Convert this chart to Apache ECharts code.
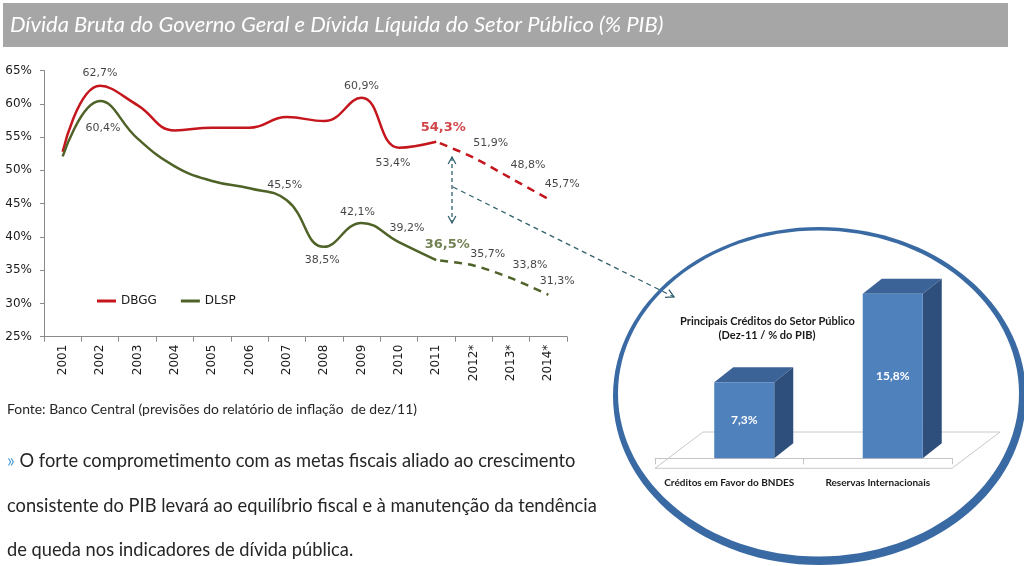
<!DOCTYPE html>
<html><head><meta charset="utf-8">
<script src="https://cdn.jsdelivr.net/npm/echarts@6/dist/echarts.min.js"></script>
<style>html,body{margin:0;padding:0;background:#fff}#c{width:1024px;height:566px}</style>
</head><body><div id="c"></div>
<script>
// ---------- data ----------
const years = ['2001','2002','2003','2004','2005','2006','2007','2008','2009','2010','2011','2012*','2013*','2014*'];
const dbgg  = [52.8, 62.7, 59.8, 56.0, 56.4, 56.4, 58.0, 57.4, 60.9, 53.4, 54.3, 51.9, 48.8, 45.7];
const dlsp  = [52.1, 60.4, 54.8, 50.6, 48.4, 47.3, 45.5, 38.5, 42.1, 39.2, 36.5, 35.7, 33.8, 31.3];
const lastActualIndex = 10; // 2011, projections after
const yMin = 25, yMax = 65, yStep = 5;
const creditCats = ['Créditos em Favor do BNDES', 'Reservas Internacionais'];
const creditVals = [7.3, 15.8];

const titleText = 'Dívida Bruta do Governo Geral e Dívida Líquida do Setor Público (% PIB)';
const sourceText = 'Fonte: Banco Central (previsões do relatório de inflação  de dez/11)';
const bodyLines = [
  'O forte comprometimento com as metas fiscais aliado ao crescimento',
  'consistente do PIB levará ao equilíbrio fiscal e à manutenção da tendência',
  'de queda nos indicadores de dívida pública.'
];
const insetTitle = ['Principais Créditos do Setor Público', '(Dez-11 / % do PIB)'];

// ---------- label placement (offset from point, px) ----------
const dbggLabelPlace = {1:[0,-13], 8:[0,-12], 9:[-6,15], 10:[7,-14], 11:[17,-15], 12:[17,-13], 13:[14,-15]};
const dlspLabelPlace = {1:[3,27], 6:[-2,-15], 7:[-2,13], 8:[-4,-11], 9:[8,-14], 10:[11,-16], 11:[14,-11], 12:[19,-13], 13:[9,-14]};
const highlightIndex = 10;

// ---------- styles ----------
const RED = '#c4161c', OLIVE = '#4f6228', TEAL = '#31606e';
const AXIS = '#8a8a8a', TXT = '#1a1a1a';
const fmt = v => v.toFixed(1).replace('.', ',') + '%';

const mctx = document.createElement('canvas').getContext('2d');
function fit(text, fontPrefix, family, target) {
  mctx.font = fontPrefix + ' 100px ' + family;
  return 100 * target / mctx.measureText(text).width;
}

const chart = echarts.init(document.getElementById('c'), null, {renderer: 'canvas'});

function labelData(values, place, color) {
  return values.map((v, i) => {
    const p = place[i];
    if (!p) return {value: v, label: {show: false}};
    const big = i === highlightIndex;
    return {
      value: v,
      label: {
        show: true, position: 'inside', offset: p,
        formatter: () => fmt(v),
        fontFamily: 'DejaVu Sans', fontSize: big ? 13 : 11,
        fontWeight: big ? 'bold' : 'normal',
        color: big ? color : '#141414'
      }
    };
  });
}

const solid = arr => arr.map((v, i) => i <= lastActualIndex ? v : null);
const proj  = arr => arr.map((v, i) => i >= lastActualIndex ? v : null);

const titleSize = Math.min(22, fit(titleText, 'italic normal', 'Lato', 687));
const sourceSize = Math.min(15, fit(sourceText, 'normal normal', 'Lato', 410));
const bodySize = Math.min(20, fit(bodyLines[1], 'normal normal', 'Lato', 590));
const insetTitleSize = Math.min(13, fit(insetTitle[0], 'normal bold', 'Lato', 175));

// arrow helpers (annotation decoration)
function arrowHead(tip, from, len, ang) {
  const dx = from[0] - tip[0], dy = from[1] - tip[1];
  const d = Math.hypot(dx, dy), ux = dx / d, uy = dy / d;
  const rot = (a) => [tip[0] + len * (ux * Math.cos(a) - uy * Math.sin(a)), tip[1] + len * (ux * Math.sin(a) + uy * Math.cos(a))];
  return [rot(ang), tip, rot(-ang)];
}
const vTop = [452, 157], vBot = [452, 223];
const dStart = [453, 187], dEnd = [674, 297];

const option = {
  animation: false,
  backgroundColor: '#ffffff',
  legend: {
    data: ['DBGG', 'DLSP'],
    left: 92, top: 290,
    icon: 'rect', itemWidth: 19, itemHeight: 3, itemGap: 24,
    textStyle: {fontFamily: 'DejaVu Sans', fontSize: 12, color: TXT},
    selectedMode: false
  },
  grid: [
    {left: 44, top: 70.5, width: 523, height: 266.2},
    {left: 655, top: 250, width: 297, height: 208.3}
  ],
  xAxis: [
    {
      type: 'category', gridIndex: 0, data: years, boundaryGap: true,
      axisLine: {lineStyle: {color: AXIS, width: 1}},
      axisTick: {show: true, length: 5, interval: 0, lineStyle: {color: AXIS}},
      axisLabel: {rotate: 90, margin: 8, interval: 0, fontFamily: 'DejaVu Sans', fontSize: 12, color: TXT},
      splitLine: {show: false}
    },
    {
      type: 'category', gridIndex: 1, data: creditCats, boundaryGap: true, offset: 10,
      axisLine: {lineStyle: {color: '#c4c4c4', width: 1}},
      axisTick: {show: true, length: 6, lineStyle: {color: '#c4c4c4'}},
      axisLabel: {margin: 9, interval: 0, fontFamily: 'Lato', fontWeight: 'bold', fontSize: 10, color: TXT},
      splitLine: {show: false}
    }
  ],
  yAxis: [
    {
      type: 'value', gridIndex: 0, min: yMin, max: yMax, interval: yStep,
      axisLine: {show: true, lineStyle: {color: AXIS, width: 1}},
      axisTick: {show: true, length: 4, lineStyle: {color: AXIS}},
      axisLabel: {formatter: '{value}%', margin: 12, fontFamily: 'DejaVu Sans', fontSize: 12, color: TXT},
      splitLine: {show: false}
    },
    {type: 'value', gridIndex: 1, min: 0, max: 20, show: false, splitLine: {show: false}}
  ],
  series: [
    {name: 'DBGG', type: 'line', xAxisIndex: 0, yAxisIndex: 0, data: solid(dbgg), smooth: 0.45,
     showSymbol: false, symbol: 'none', color: RED, lineStyle: {color: RED, width: 2.5}, silent: true, z: 3},
    {name: 'DBGG proj', type: 'line', xAxisIndex: 0, yAxisIndex: 0, data: proj(dbgg), smooth: 0.3,
     showSymbol: false, symbol: 'none', color: RED, lineStyle: {color: RED, width: 2.5, type: [8, 6], dashOffset: -4}, silent: true, z: 3},
    {name: 'DLSP', type: 'line', xAxisIndex: 0, yAxisIndex: 0, data: solid(dlsp), smooth: 0.45,
     showSymbol: false, symbol: 'none', color: OLIVE, lineStyle: {color: OLIVE, width: 2.5}, silent: true, z: 3},
    {name: 'DLSP proj', type: 'line', xAxisIndex: 0, yAxisIndex: 0, data: proj(dlsp), smooth: 0.3,
     showSymbol: false, symbol: 'none', color: OLIVE, lineStyle: {color: OLIVE, width: 2.5, type: [8, 6], dashOffset: -4}, silent: true, z: 3},
    {name: 'lbl1', type: 'scatter', xAxisIndex: 0, yAxisIndex: 0, symbolSize: 1, silent: true, z: 5,
     itemStyle: {color: 'rgba(0,0,0,0)'}, data: labelData(dbgg, dbggLabelPlace, RED)},
    {name: 'lbl2', type: 'scatter', xAxisIndex: 0, yAxisIndex: 0, symbolSize: 1, silent: true, z: 5,
     itemStyle: {color: 'rgba(0,0,0,0)'}, data: labelData(dlsp, dlspLabelPlace, OLIVE)},
    {
      name: 'creditos', type: 'custom', xAxisIndex: 1, yAxisIndex: 1, silent: true, z: 4,
      data: creditVals.map((v, i) => [i, v]),
      encode: {x: 0, y: 1},
      renderItem: function (params, api) {
        const i = api.value(0), v = api.value(1);
        const base = api.coord([i, 0]), top = api.coord([i, v]);
        const fw = 60, sx = 15, dx = 19, dy = -15;
        const x0 = base[0] + sx - fw / 2, x1 = x0 + fw, yb = base[1], yt = top[1];
        return {
          type: 'group',
          children: [
            {type: 'polygon', shape: {points: [[x0, yt], [x1, yt], [x1 + dx, yt + dy], [x0 + dx, yt + dy]]}, style: {fill: '#3c6397'}},
            {type: 'polygon', shape: {points: [[x1, yt], [x1 + dx, yt + dy], [x1 + dx, yb + dy], [x1, yb]]}, style: {fill: '#2e4f7c'}},
            {type: 'rect', shape: {x: x0, y: yt, width: fw, height: yb - yt}, style: {fill: '#4f81bd'}},
            {type: 'text', x: (x0 + x1) / 2, y: (yt + yb) / 2,
             style: {text: fmt(v), fill: '#ffffff', font: 'bold 12px Lato', align: 'center', verticalAlign: 'middle'}}
          ]
        };
      }
    }
  ],
  graphic: [
    // title banner
    {type: 'rect', z: 0, shape: {x: 3, y: 3, width: 1005, height: 44}, style: {fill: '#a6a6a6'}},
    {type: 'text', z: 1, x: 10, y: 24.5, style: {text: titleText, fill: '#ffffff', font: 'italic ' + titleSize.toFixed(2) + 'px Lato', verticalAlign: 'middle'}},
    // source + commentary
    {type: 'text', x: 7, y: 410, style: {text: sourceText, fill: '#262626', font: sourceSize.toFixed(2) + 'px Lato', verticalAlign: 'middle'}},
    {type: 'text', x: 7, y: 461, style: {
      text: '{a|»} ' + bodyLines[0], verticalAlign: 'middle', fill: '#262626', font: bodySize.toFixed(2) + 'px Lato',
      rich: {a: {fill: '#4f9fd6', font: bodySize.toFixed(2) + 'px Lato'}}}},
    {type: 'text', x: 7, y: 506, style: {text: bodyLines[1], fill: '#262626', font: bodySize.toFixed(2) + 'px Lato', verticalAlign: 'middle'}},
    {type: 'text', x: 7, y: 550, style: {text: bodyLines[2], fill: '#262626', font: bodySize.toFixed(2) + 'px Lato', verticalAlign: 'middle'}},
    // inset ring
    {type: 'ellipse', z: -2, shape: {cx: 819.5, cy: 396, rx: 206.5, ry: 169}, style: {fill: '#3a6aa3'}},
    {type: 'ellipse', z: -1, shape: {cx: 818.5, cy: 393.5, rx: 200.5, ry: 163}, style: {fill: '#ffffff'}},
    // inset floor
    {type: 'polygon', z: 0, shape: {points: [[655, 468.3], [952, 468.3], [1000, 432], [703, 432]]}, style: {fill: '#ffffff', stroke: '#c8c8c8', lineWidth: 1}},
    // inset title
    {type: 'text', z: 2, x: 767.5, y: 321, style: {text: insetTitle[0], fill: '#1a1a1a', font: 'bold ' + insetTitleSize.toFixed(2) + 'px Lato', align: 'center', verticalAlign: 'middle'}},
    {type: 'text', z: 2, x: 767, y: 335.5, style: {text: insetTitle[1], fill: '#1a1a1a', font: 'bold ' + insetTitleSize.toFixed(2) + 'px Lato', align: 'center', verticalAlign: 'middle'}},
    // annotation arrows
    {type: 'line', z: 3, shape: {x1: vTop[0], y1: vTop[1], x2: vBot[0], y2: vBot[1]}, style: {stroke: TEAL, lineWidth: 1.3, lineDash: [4, 3]}},
    {type: 'polyline', z: 3, shape: {points: arrowHead(vTop, vBot, 8, 0.5)}, style: {stroke: TEAL, lineWidth: 1.3, fill: null}},
    {type: 'polyline', z: 3, shape: {points: arrowHead(vBot, vTop, 8, 0.5)}, style: {stroke: TEAL, lineWidth: 1.3, fill: null}},
    {type: 'line', z: 3, shape: {x1: dStart[0], y1: dStart[1], x2: dEnd[0], y2: dEnd[1]}, style: {stroke: TEAL, lineWidth: 1.3, lineDash: [5, 4]}},
    {type: 'polyline', z: 3, shape: {points: arrowHead(dEnd, dStart, 9, 0.5)}, style: {stroke: TEAL, lineWidth: 1.3, fill: null}}
  ]
};
chart.setOption(option);
</script>
</body></html>
